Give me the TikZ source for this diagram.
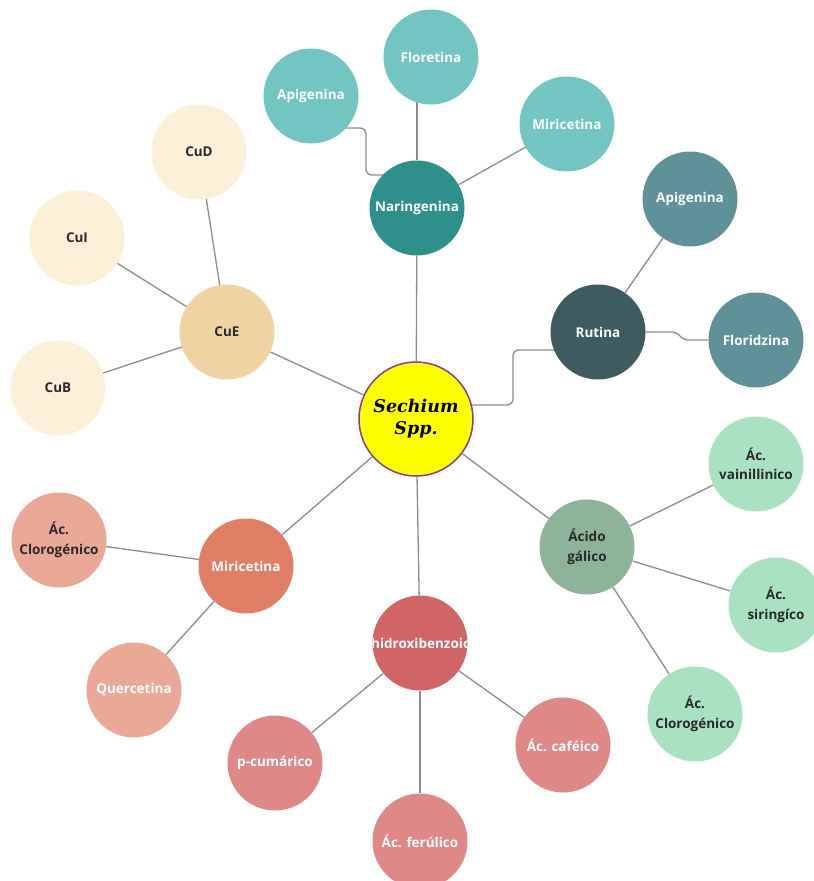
\documentclass[tikz,border=0pt]{standalone}
\usepackage{fontspec}
\setmainfont{Open Sans}
\newfontfamily\serifbi{DejaVu Serif}
\usetikzlibrary{calc,backgrounds}
\definecolor{tealL}{HTML}{73C5C1}
\definecolor{tealD}{HTML}{2F8F8B}
\definecolor{rutC}{HTML}{3E5B60}
\definecolor{slateC}{HTML}{5F9199}
\definecolor{cuL}{HTML}{FDF0D9}
\definecolor{cuEC}{HTML}{F0D3A2}
\definecolor{galC}{HTML}{8DB399}
\definecolor{grnL}{HTML}{A9E1C1}
\definecolor{mirC}{HTML}{E07F66}
\definecolor{salL}{HTML}{EAA897}
\definecolor{hidC}{HTML}{D16464}
\definecolor{rosL}{HTML}{DE8888}
\definecolor{purpC}{HTML}{8E3C8E}
\definecolor{linec}{HTML}{8C8C8C}
\definecolor{darkt}{HTML}{2A2A2A}
\definecolor{sunY}{HTML}{FFFF00}
\begin{document}
\begin{tikzpicture}[x=1pt,y=-1pt,
  bub/.style={circle, minimum size=95pt, inner sep=0pt, align=center,
    font=\fontsize{13.5}{19.5}\selectfont\bfseries, text=white},
  dark/.style={text=darkt},
  edge/.style={draw=linec, line width=1.3pt},
]
\useasboundingbox (0,0) rectangle (814,881);

% center
\node[circle, minimum size=114pt, inner sep=0pt, fill=sunY, draw=purpC, line width=1.5pt,
  align=center, font=\serifbi\bfseries\itshape\fontsize{17.5}{22}\selectfont] (sech) at (416,419) {Sechium\\Spp.};

% Naringenina group
\node[bub, fill=tealD] (nar) at (417,208) {Naringenina};
\node[bub, fill=tealL] (flo) at (431,57) {Floretina};
\node[bub, fill=tealL] (apt) at (311,96) {Apigenina};
\node[bub, fill=tealL] (mirt) at (567,124) {Miricetina};

% Rutina group
\node[bub, fill=rutC] (rut) at (598,332) {Rutina};
\node[bub, fill=slateC] (apr) at (690,199) {Apigenina};
\node[bub, fill=slateC] (flz) at (756,340) {Floridzina};

% Cu group
\node[bub, fill=cuEC, dark] (cue) at (227,332) {CuE};
\node[bub, fill=cuL, dark] (cud) at (199,152) {CuD};
\node[bub, fill=cuL, dark] (cui) at (77,238) {CuI};
\node[bub, fill=cuL, dark] (cub) at (58,388) {CuB};

% Acido galico group
\node[bub, fill=galC, dark] (gal) at (587,547) {Ácido\\gálico};
\node[bub, fill=grnL, dark] (vai) at (756,464) {Ác.\\vainillinico};
\node[bub, fill=grnL, dark] (sir) at (776,605) {Ác.\\siringíco};
\node[bub, fill=grnL, dark] (clr) at (695,714) {Ác.\\Clorogénico};

% Miricetina group
\node[bub, fill=mirC] (mil) at (246,566) {Miricetina};
\node[bub, fill=salL, dark] (cll) at (59,540) {Ác.\\Clorogénico};
\node[bub, fill=salL] (que) at (134,690) {Quercetina};

% hidroxibenzoico group
\node[bub, fill=hidC] (hid) at (420,643) {};
\begin{scope}
  \clip (hid.center) circle (47.5pt);
  \node[anchor=west, inner sep=0pt, text=white, font=\fontsize{13.5}{19.5}\selectfont\bfseries] (hidt) at (371,643) {hidroxibenzoico};
\end{scope}
\node[bub, fill=rosL] (pcu) at (275,763) {p-cumárico};
\node[bub, fill=rosL] (fer) at (420,841) {Ác. ferúlico};
\node[bub, fill=rosL] (caf) at (563,745) {Ác. caféico};

\begin{scope}[on background layer]
  \draw[edge] (nar) -- (sech);
  \draw[edge] (nar) -- (nar |- flo);
  \draw[edge] (nar) -- (mirt);
  \draw[edge, rounded corners=6pt] ($(apt)+(0,32)$) -| ($(nar)+(-51,-33)$) -- ($(nar)+(0,-33)$);
  \draw[edge] (sech) -- (cue);
  \draw[edge] (cue) -- (cud);
  \draw[edge] (cue) -- (cui);
  \draw[edge] (cue) -- (cub);
  \draw[edge, rounded corners=6pt] ($(sech)+(0,-14)$) -| ($(rut)+(-85,18)$) -- ($(rut)+(0,18)$);
  \draw[edge] (rut) -- (apr);
  \draw[edge, rounded corners=5pt] (rut) -- ($(rut)+(79,0)$) -- ($(flz)+(-73,0)$) -- (flz);
  \draw[edge] (sech) -- (gal);
  \draw[edge] (gal) -- (vai);
  \draw[edge] (gal) -- (sir);
  \draw[edge] (gal) -- (clr);
  \draw[edge] (sech) -- (hid);
  \draw[edge] (hid) -- (pcu);
  \draw[edge] (hid) -- (fer);
  \draw[edge] (hid) -- (caf);
  \draw[edge] (sech) -- (mil);
  \draw[edge] (mil) -- (cll);
  \draw[edge] (mil) -- (que);
\end{scope}
\end{tikzpicture}
\end{document}
